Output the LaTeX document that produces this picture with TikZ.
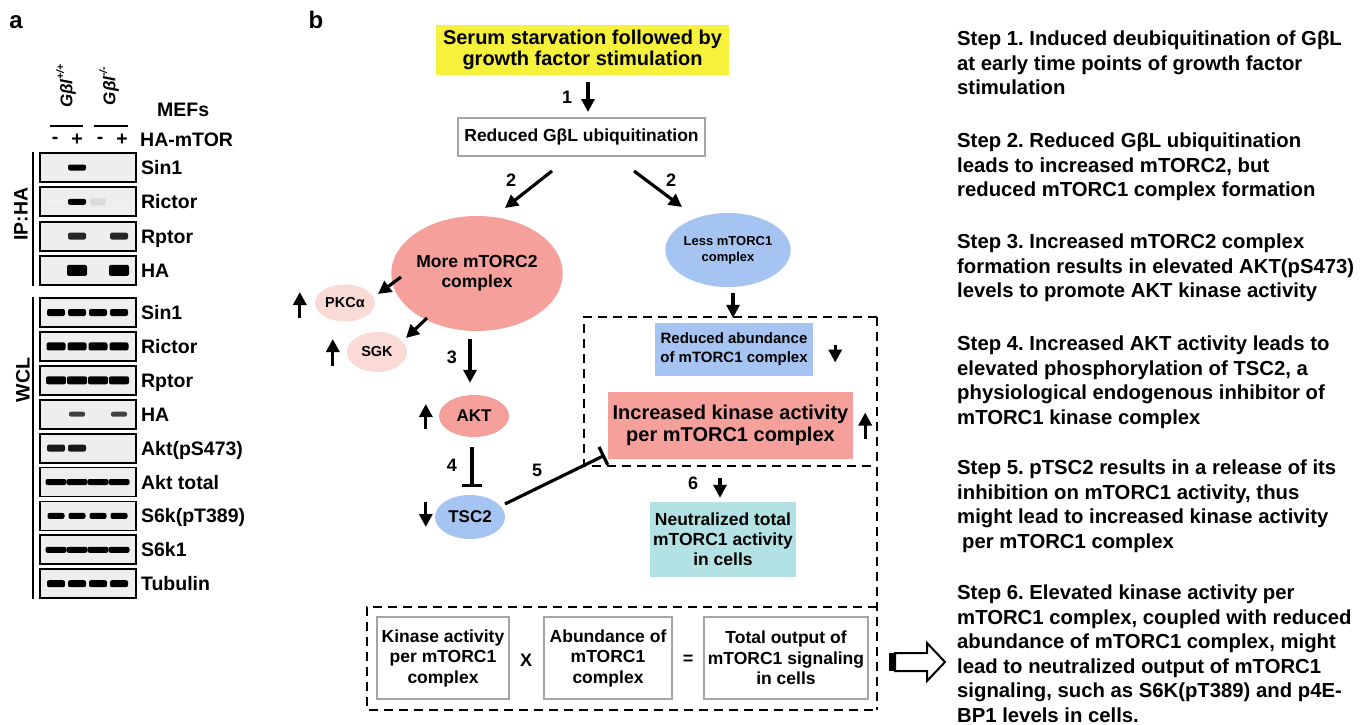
\documentclass[tikz,border=0pt]{standalone}
\usepackage{fontspec}
\setmainfont{Liberation Sans}
\usetikzlibrary{shapes.geometric,arrows.meta,calc}
\definecolor{yel}{RGB}{246,241,58}
\definecolor{pinkc}{RGB}{245,160,155}
\definecolor{lpink}{RGB}{250,218,212}
\definecolor{bluec}{RGB}{166,196,242}
\definecolor{tealc}{RGB}{178,226,228}
\definecolor{grayb}{RGB}{165,165,165}
\definecolor{blotbg}{RGB}{238,238,238}
\newcommand\fs[2]{\fontsize{#1}{#2}\selectfont\bfseries}
\newcommand\bnd[5]{\fill[#5,rounded corners=2pt] (#1-#3,#2-#4) rectangle (#1+#3,#2+#4);}
\frenchspacing
\begin{document}
\frenchspacing
\begin{tikzpicture}[x=1pt,y=-1pt,
  arr/.style={line width=3.2pt,-{Triangle[length=13pt,width=13pt]}},
  tbar/.style={line width=3.2pt,-{Bar[width=20pt]}},
  blot/.style={draw=black,line width=1.8pt,fill=blotbg,minimum width=96pt,minimum height=29pt,inner sep=0pt},
  blab/.style={anchor=west,font=\fs{19.5}{22},text height=14pt,text depth=0pt,inner sep=0pt},
  ell/.style={ellipse,inner sep=0pt,align=center},
  num/.style={font=\fs{18}{20},inner sep=0pt},
  gbox/.style={draw=grayb,line width=2pt,fill=white,inner sep=0pt,align=center,font=\fs{17.5}{20.5}},
  fbox/.style={inner sep=0pt,align=center},
  dline/.style={line width=2.2pt,dash pattern=on 9pt off 6pt},
  steptext/.style={anchor=north west,align=left,inner sep=0pt,font=\fs{20.3}{24.5}\frenchspacing},
  ]
\useasboundingbox (0,0) rectangle (1366,725);

% ---------------- panel a ----------------
\node[font=\fs{24}{26}] (la) at (16,22) {a};
\node[rotate=90,font=\fs{17}{20}\itshape] (g1) at (66,86) {Gβl\raisebox{0.5em}{\fontsize{10.5}{11}\selectfont +/+}};
\node[rotate=90,font=\fs{17}{20}\itshape] (g2) at (109,86) {Gβl\raisebox{0.5em}{\fontsize{10.5}{11}\selectfont -/-}};
\draw[line width=1.5pt] (50,126) -- (83,126);
\draw[line width=1.5pt] (94,126) -- (128,126);
\node[font=\fs{19.5}{22},anchor=west,inner sep=0pt] (mefs) at (157,110) {MEFs};
\node[font=\fs{19.5}{22},inner sep=0pt] (p1) at (55,140) {-};
\node[font=\fs{19.5}{22},inner sep=0pt] (p2) at (77,140) {+};
\node[font=\fs{19.5}{22},inner sep=0pt] (p3) at (100,140) {-};
\node[font=\fs{19.5}{22},inner sep=0pt] (p4) at (122,140) {+};
\node[font=\fs{19.5}{22},anchor=west,inner sep=0pt] (ham) at (140,140) {HA-mTOR};

\foreach \n/\y/\t in {ip1/167.5/Sin1,ip2/201.8/Rictor,ip3/236.1/Rptor,ip4/270.4/HA,
  w1/312.5/Sin1,w2/346.4/Rictor,w3/380.3/Rptor,w4/414.2/HA,w5/448.1/Akt(pS473),
  w6/482/Akt total,w7/515.9/S6k(pT389),w8/549.8/S6k1,w9/583.7/Tubulin}{
  \node[blot] (\n) at (88,\y) {};
  \node[blab] (\n-l) at ([xshift=4pt]\n.east) {\t};
}
% bands
\bnd{77}{167.5}{9}{3}{black}
\bnd{98}{167.5}{8}{2}{gray!14}
\bnd{119}{167.5}{8}{2}{gray!14}
\bnd{56}{201.8}{8}{2}{gray!10}
\bnd{77}{201.8}{9}{3}{black}
\bnd{98}{201.8}{8}{3.5}{gray!28}
\bnd{119}{201.8}{8}{2}{gray!12}
\bnd{77}{236.1}{9}{3.5}{black!85}
\bnd{119}{236.1}{9}{3.5}{black!85}
\bnd{77}{270.4}{10}{5.5}{black}
\bnd{119}{270.4}{10}{5.5}{black}
\foreach \x in {56,77,98,119}{
  \bnd{\x}{312.5}{9}{3.5}{black}
  \bnd{\x}{346.4}{9.5}{4}{black}
  \bnd{\x}{380.3}{10}{4}{black}
  \bnd{\x}{482}{10.5}{3}{black}
  \bnd{\x}{515.9}{8.5}{3}{black}
  \bnd{\x}{549.8}{10.5}{3}{black}
  \bnd{\x}{583.7}{9}{3.5}{black}
}
\bnd{77}{414.2}{8}{2.5}{black!75}
\bnd{119}{414.2}{8}{2.5}{black!75}
\bnd{56}{448.1}{9}{3.5}{black!90}
\bnd{77}{448.1}{9}{3.5}{black!90}
\draw[line width=1.8pt] (ip1.north west) ++(-6,0) coordinate (ipt) -- (ipt |- ip4.south);
\draw[line width=1.8pt] (w1.north west) ++(-6,0) coordinate (wt) -- (wt |- w9.south);
\node[rotate=90,font=\fs{19.5}{22}] (iphal) at (21,214) {IP:HA};
\node[rotate=90,font=\fs{19.5}{22}] (wcll) at (23,380) {WCL};

% ---------------- panel b ----------------
\node[font=\fs{24}{26}] (lb) at (316,20) {b};
\node[fbox,fill=yel,minimum width=293pt,minimum height=50pt,font=\fs{20}{21.5}] (serum) at (582.5,50) {Serum starvation followed by\\growth factor stimulation};
\node[gbox,minimum width=247pt,minimum height=38pt] (reduced) at (581.5,137) {Reduced GβL ubiquitination};
\node[ell,fill=pinkc,minimum width=140pt,minimum height=115pt,font=\fs{17.5}{20}] (mtorc2) at (477,273.5) {More mTORC2\\complex};
\node[ell,fill=lpink,minimum width=60pt,minimum height=37pt,font=\fs{14.5}{16}] (pkc) at (345,303) {PKCα};
\node[ell,fill=lpink,minimum width=60pt,minimum height=40pt,font=\fs{14.5}{16}] (sgk) at (377,352) {SGK};
\node[ell,fill=pinkc,minimum width=70pt,minimum height=42pt,font=\fs{17}{19}] (akt) at (474,416) {AKT};
\node[ell,fill=bluec,minimum width=70pt,minimum height=44pt,font=\fs{17}{19}] (tsc2) at (470,517) {TSC2};
\node[ell,fill=bluec,minimum width=90pt,minimum height=74pt,font=\fs{13}{16}] (less) at (728,250) {Less mTORC1\\complex};
\node[fbox,fill=bluec,minimum width=158pt,minimum height=53pt,font=\fs{15}{19}] (abund) at (734,349.5) {Reduced abundance\\of mTORC1 complex};
\node[fbox,fill=pinkc,minimum width=245pt,minimum height=67pt,font=\fs{20}{22}] (incr) at (730.5,425.5) {Increased kinase activity\\per mTORC1 complex};
\node[fbox,fill=tealc,minimum width=146pt,minimum height=75pt,font=\fs{17.5}{20}] (neut) at (723,539.5) {Neutralized total\\mTORC1 activity\\in cells};
\node[gbox,minimum width=132pt,minimum height=82pt] (k1) at (443,658) {Kinase activity\\per mTORC1\\complex};
\node[gbox,minimum width=128pt,minimum height=82pt] (k2) at (608,658) {Abundance of\\mTORC1\\complex};
\node[gbox,minimum width=164pt,minimum height=82pt] (k3) at (786,658) {Total output of\\mTORC1 signaling\\in cells};
\node[font=\fs{18}{20}] (times) at (526,660) {X};
\node[font=\fs{18}{20}] (eq) at (688,660) {=};

% dashed frames
\coordinate (dtr) at (877,317);
\coordinate (dbr) at (877,710);
\draw[dline] (dtr) -- (dbr);
\draw[dline] (dtr) -- (584,317) -- (584,466) -- (877,466);
\draw[dline] (877,607) -- (367,607) -- (367,710) -- (dbr);

% connectors
\draw[arr] ($(serum.south)+(5.5,7)$) -- ($(reduced.north)+(6.5,-5)$);
\node[num] (n1) at (567,97) {1};
\draw[arr] ($(reduced.south)+(-29.5,14)$) -- ($(mtorc2.center)+(28,-65.5)$);
\node[num] (n2a) at (511,180) {2};
\draw[arr] ($(reduced.south)+(52.5,14)$) -- ($(less.center)+(-46,-43)$);
\node[num] (n2b) at (671,180) {2};
\draw[arr] ($(mtorc2.center)+(-76,3.5)$) -- ($(pkc.center)+(33,-9)$);
\draw[arr] ($(mtorc2.center)+(-50,44.5)$) -- ($(sgk.center)+(29,-14)$);
\draw[arr] ($(mtorc2.south)+(-7,8)$) -- ($(akt.north)+(-4,-12)$);
\node[num] (n3) at (452,357) {3};
\draw[tbar] ($(akt.south)+(-2,10)$) -- ($(tsc2.north)+(2,-8)$);
\node[num] (n4) at (452,465) {4};
\draw[tbar] ($(tsc2.center)+(35,-13)$) -- ($(incr.south west)+(-3,-4)$);
\node[num] (n5) at (537,470) {5};
\draw[arr] ($(less.south)+(5,6)$) -- ($(abund.north)+(-1,-5)$);
\draw[arr] ($(incr.south)+(-10.5,19)$) -- ($(neut.north)+(-3,-4)$);
\node[num] (n6) at (693,483) {6};

% up / down indicators
\draw[arr] ($(pkc.west)+(-15,15)$) -- ++(0,-26);
\draw[arr] ($(sgk.west)+(-14,14)$) -- ++(0,-27);
\draw[arr] ($(akt.west)+(-13,13)$) -- ++(0,-25);
\draw[arr] ($(tsc2.west)+(-9,-15)$) -- ++(0,25);
\draw[arr] ($(abund.east)+(22,-5)$) -- ++(0,18);
\draw[arr] ($(incr.east)+(12,13)$) -- ++(0,-26);

% hollow arrow
\fill[black] (889,653) rectangle (895,671);
\draw[line width=2pt,line join=miter] (895,653) -- (927,653) -- (927,643) -- (945,662) -- (927,681) -- (927,671) -- (895,671) -- cycle;

% steps
\node[steptext] (s1) at (957,31) {Step 1. Induced deubiquitination of GβL\\at early time points of growth factor\\stimulation};
\node[steptext] (s2) at (957,133) {Step 2. Reduced GβL ubiquitination\\leads to increased mTORC2, but\\reduced mTORC1 complex formation};
\node[steptext] (s3) at (957,234) {Step 3. Increased mTORC2 complex\\formation results in elevated AKT(pS473)\\levels to promote AKT kinase activity};
\node[steptext] (s4) at (957,336) {Step 4. Increased AKT activity leads to\\elevated phosphorylation of TSC2, a\\physiological endogenous inhibitor of\\mTORC1 kinase complex};
\node[steptext] (s5) at (957,460) {Step 5. pTSC2 results in a release of its\\inhibition on mTORC1 activity, thus\\might lead to increased kinase activity\\\hspace*{5pt}per mTORC1 complex};
\node[steptext] (s6) at (957,585) {Step 6. Elevated kinase activity per\\mTORC1 complex, coupled with reduced\\abundance of mTORC1 complex, might\\lead to neutralized output of mTORC1\\signaling, such as S6K(pT389) and p4E-\\BP1 levels in cells.};
\end{tikzpicture}
\end{document}
